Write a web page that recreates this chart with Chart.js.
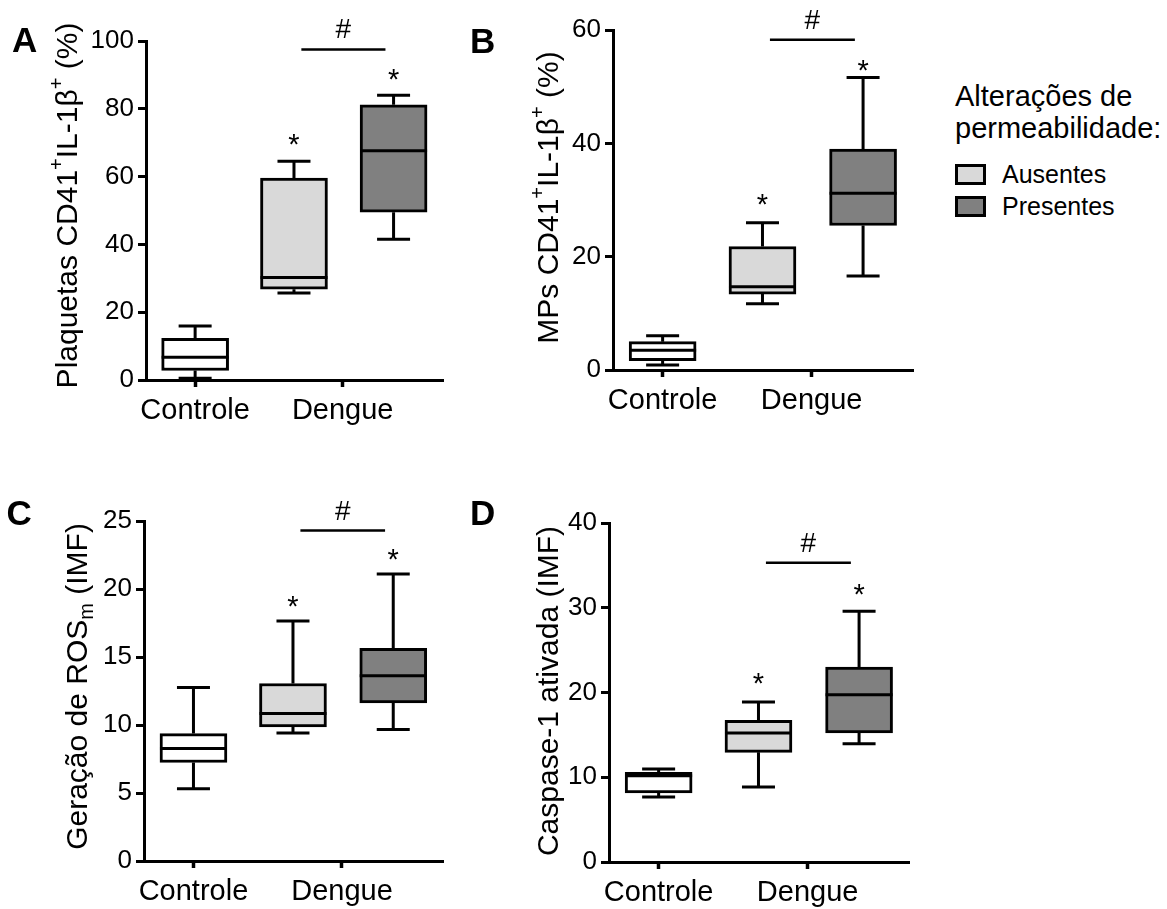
<!DOCTYPE html>
<html>
<head>
<meta charset="utf-8">
<script src="https://cdn.jsdelivr.net/npm/chart.js@4.4.1/dist/chart.umd.min.js"></script>
<style>
  html, body { margin: 0; padding: 0; background: #ffffff; }
  body { width: 1167px; height: 909px; position: relative; overflow: hidden;
         font-family: 'Liberation Sans', Arial, Helvetica, sans-serif; color: #000; }
  canvas { position: absolute; }
  .panel-letter { position: absolute; font-weight: bold; font-size: 35px; line-height: 35px; }
  .leg-title { position: absolute; left: 955px; font-size: 29px; line-height: 29px; white-space: nowrap; }
  .leg-item { position: absolute; left: 1002px; font-size: 25px; line-height: 25px; white-space: nowrap; }
  .leg-box { position: absolute; left: 955px; width: 31px; height: 21px; box-sizing: border-box; border: 3px solid #000; }
</style>
</head>
<body>
<script>
// ---------------- DATA ----------------
const groups = ['Controle', 'Dengue'];
const seriesNames = ['Controle', 'Ausentes', 'Presentes'];
const seriesGroup = [0, 1, 1];              // which category each box belongs to

// A: Plaquetas CD41+IL-1β+ (%)
const plaqMin = [0.5, 25.7, 41.5];
const plaqQ1  = [2.8, 26.8, 49.5];
const plaqMed = [6.7, 30.2, 67.6];
const plaqQ3  = [12.3, 59.6, 81.2];
const plaqMax = [15.9, 64.5, 84.0];
const plaqStars = [null, 71.7, 90.9];
const plaqHash = 97.5;
const plaqTicks = [0, 20, 40, 60, 80, 100];

// B: MPs CD41+IL-1β+ (%)
const mpsMin = [0.9, 11.7, 16.6];
const mpsQ1  = [1.65, 13.4, 25.5];
const mpsMed = [3.5, 14.7, 31.2];
const mpsQ3  = [5.0, 21.8, 39.0];
const mpsMax = [6.05, 26.0, 51.6];
const mpsStars = [null, 30.6, 54.1];
const mpsHash = 58.3;
const mpsTicks = [0, 20, 40, 60];

// C: Geração de ROSm (IMF)
const rosMin = [5.32, 9.42, 9.67];
const rosQ1  = [7.24, 9.86, 11.63];
const rosMed = [8.27, 10.84, 13.62];
const rosQ3  = [9.37, 13.05, 15.63];
const rosMax = [12.76, 17.64, 21.1];
const rosStars = [null, 19.3, 22.7];
const rosHash = 24.3;
const rosTicks = [0, 5, 10, 15, 20, 25];

// D: Caspase-1 ativada (IMF)
const caspMin = [7.67, 8.85, 13.96];
const caspQ1  = [8.14, 12.94, 15.22];
const caspMed = [10.19, 15.22, 19.74];
const caspQ3  = [10.58, 16.72, 23.0];
const caspMax = [10.97, 18.88, 29.58];
const caspStars = [null, 21.9, 32.5];
const caspHash = 35.3;
const caspTicks = [0, 10, 20, 30, 40];

const legendTitle = ['Alterações de', 'permeabilidade:'];

// ---------------- STYLE / LAYOUT ----------------
const FONT = "'Liberation Sans', Arial, Helvetica, sans-serif";
const COLORS = ['#ffffff', '#d9d9d9', '#808080'];
const BOX_OFFSET = [0, -0.33, 0.345];
const X_MIN = -0.333, X_MAX = 1.68;
const HASH_SPAN = [0.72, 1.29];
const BOX_W = 67, CAP_W = 33, LW = 3;

const panels = [
  { letter: 'A', letterPos: [12, 22.4],
    canvas: { left: 0, top: 0, w: 470, h: 452 }, plot: { l: 146, t: 41, r: 443, b: 380 },
    title: { segs: [['Plaquetas CD41', 0], ['+', 1], ['IL-1β', 0], ['+', 1], [' (%)', 0]], baseX: 77, centerY: 205.5 },
    min: plaqMin, q1: plaqQ1, med: plaqMed, q3: plaqQ3, max: plaqMax, stars: plaqStars, hash: plaqHash, ticks: plaqTicks },
  { letter: 'B', letterPos: [470, 23.4],
    canvas: { left: 470, top: 0, w: 460, h: 452 }, plot: { l: 613, t: 30, r: 913, b: 370 },
    title: { segs: [['MPs CD41', 0], ['+', 1], ['IL-1β', 0], ['+', 1], [' (%)', 0]], baseX: 558, centerY: 197.5 },
    min: mpsMin, q1: mpsQ1, med: mpsMed, q3: mpsQ3, max: mpsMax, stars: mpsStars, hash: mpsHash, ticks: mpsTicks },
  { letter: 'C', letterPos: [6.5, 495.4],
    canvas: { left: 0, top: 460, w: 470, h: 449 }, plot: { l: 144, t: 521, r: 443, b: 861 },
    title: { segs: [['Geração de ROS', 0], ['m', -1], [' (IMF)', 0]], baseX: 87, centerY: 686.5 },
    min: rosMin, q1: rosQ1, med: rosMed, q3: rosQ3, max: rosMax, stars: rosStars, hash: rosHash, ticks: rosTicks },
  { letter: 'D', letterPos: [470, 495.4],
    canvas: { left: 470, top: 460, w: 460, h: 449 }, plot: { l: 609, t: 523, r: 909, b: 862 },
    title: { segs: [['Caspase-1 ativada (IMF)', 0]], baseX: 558, centerY: 691 },
    min: caspMin, q1: caspQ1, med: caspMed, q3: caspQ3, max: caspMax, stars: caspStars, hash: caspHash, ticks: caspTicks }
];

Chart.defaults.font.family = FONT;
Chart.defaults.color = '#000';
Chart.defaults.animation = false;

function makeBoxPlugin(p) {
  return {
    id: 'boxParts' + p.letter,
    beforeDatasetsDraw(chart) {
      const ctx = chart.ctx, y = chart.scales.y;
      ctx.save();
      ctx.strokeStyle = '#000'; ctx.lineWidth = LW; ctx.lineCap = 'butt';
      chart.data.datasets.forEach((ds, i) => {
        const el = chart.getDatasetMeta(i).data[0];
        const cx = el.x;
        const yMin = y.getPixelForValue(p.min[i]), yMax = y.getPixelForValue(p.max[i]);
        const yQ1 = y.getPixelForValue(p.q1[i]), yQ3 = y.getPixelForValue(p.q3[i]);
        ctx.beginPath();
        ctx.moveTo(cx, yQ1); ctx.lineTo(cx, yMin);
        ctx.moveTo(cx, yQ3); ctx.lineTo(cx, yMax);
        ctx.moveTo(cx - CAP_W / 2, yMin); ctx.lineTo(cx + CAP_W / 2, yMin);
        ctx.moveTo(cx - CAP_W / 2, yMax); ctx.lineTo(cx + CAP_W / 2, yMax);
        ctx.stroke();
      });
      ctx.restore();
    },
    afterDatasetsDraw(chart) {
      const ctx = chart.ctx, x = chart.scales.x, y = chart.scales.y;
      ctx.save();
      ctx.strokeStyle = '#000'; ctx.fillStyle = '#000'; ctx.lineWidth = LW;
      // medians
      chart.data.datasets.forEach((ds, i) => {
        const el = chart.getDatasetMeta(i).data[0];
        const ym = y.getPixelForValue(p.med[i]);
        ctx.beginPath();
        ctx.moveTo(el.x - el.width / 2, ym); ctx.lineTo(el.x + el.width / 2, ym);
        ctx.stroke();
      });
      // stars
      ctx.font = '29px ' + FONT;
      ctx.textAlign = 'center'; ctx.textBaseline = 'alphabetic';
      p.stars.forEach((s, i) => {
        if (s === null) return;
        const el = chart.getDatasetMeta(i).data[0];
        ctx.fillText('*', el.x, y.getPixelForValue(s) + 17);
      });
      // significance bar
      const yh = y.getPixelForValue(p.hash);
      const x0 = x.getPixelForValue(HASH_SPAN[0]), x1 = x.getPixelForValue(HASH_SPAN[1]);
      ctx.lineWidth = 2.5;
      ctx.beginPath(); ctx.moveTo(x0, yh); ctx.lineTo(x1, yh); ctx.stroke();
      ctx.font = '28px ' + FONT;
      ctx.fillText('#', (x0 + x1) / 2, yh - 11);
      ctx.restore();
    },
    afterDraw(chart) {
      const ctx = chart.ctx;
      const t = p.title;
      const MAIN = 30, SMALL = 20;
      const segW = t.segs.map(([txt, mode]) => {
        ctx.font = (mode === 0 ? MAIN : SMALL) + 'px ' + FONT;
        return ctx.measureText(txt).width;
      });
      const total = segW.reduce((a, b) => a + b, 0);
      ctx.save();
      ctx.translate(t.baseX - p.canvas.left, t.centerY - p.canvas.top);
      ctx.rotate(-Math.PI / 2);
      ctx.fillStyle = '#000'; ctx.textAlign = 'left'; ctx.textBaseline = 'alphabetic';
      let cur = -total / 2;
      t.segs.forEach(([txt, mode], k) => {
        ctx.font = (mode === 0 ? MAIN : SMALL) + 'px ' + FONT;
        const dy = mode === 1 ? -14 : (mode === -1 ? 6 : 0);
        ctx.fillText(txt, cur, dy);
        cur += segW[k];
      });
      ctx.restore();
    }
  };
}

panels.forEach(p => {
  const cv = document.createElement('canvas');
  cv.width = p.canvas.w; cv.height = p.canvas.h;
  cv.style.left = p.canvas.left + 'px'; cv.style.top = p.canvas.top + 'px';
  cv.style.width = p.canvas.w + 'px'; cv.style.height = p.canvas.h + 'px';
  document.body.appendChild(cv);

  const yAxisW = p.plot.l - p.canvas.left;
  const xAxisH = p.canvas.h - (p.plot.b - p.canvas.top);
  const padTop = p.plot.t - p.canvas.top;
  const padRight = p.canvas.w - (p.plot.r - p.canvas.left);

  const datasets = seriesNames.map((name, i) => ({
    label: name,
    data: [{ x: seriesGroup[i] + BOX_OFFSET[i], y: [p.q1[i], p.q3[i]] }],
    backgroundColor: COLORS[i],
    borderColor: '#000',
    borderWidth: LW,
    borderSkipped: false,
    barThickness: BOX_W,
    grouped: false
  }));

  new Chart(cv, {
    type: 'bar',
    data: { datasets },
    options: {
      responsive: false,
      animation: false,
      events: [],
      layout: { padding: { left: 0, top: padTop, right: padRight, bottom: 0 } },
      plugins: { legend: { display: false }, tooltip: { enabled: false }, title: { display: false } },
      scales: {
        x: {
          type: 'linear', min: X_MIN, max: X_MAX, offset: false,
          afterBuildTicks: (s) => { s.ticks = groups.map((g, i) => ({ value: i })); },
          afterFit: (s) => { s.height = xAxisH; },
          ticks: { callback: (v, i) => groups[i], font: { size: 29 }, color: '#000', padding: 7, maxRotation: 0, autoSkip: false },
          grid: { offset: false, drawOnChartArea: false, drawTicks: true, tickLength: 7, tickWidth: 3.5, tickColor: '#000' },
          border: { display: true, color: '#000', width: LW }
        },
        y: {
          type: 'linear', min: p.ticks[0], max: p.ticks[p.ticks.length - 1],
          afterBuildTicks: (s) => { s.ticks = p.ticks.map(v => ({ value: v })); },
          afterFit: (s) => { s.width = yAxisW; },
          ticks: { font: { size: 26 }, color: '#000', padding: 4 },
          grid: { drawOnChartArea: false, drawTicks: true, tickLength: 8, tickWidth: 3, tickColor: '#000' },
          border: { display: true, color: '#000', width: LW }
        }
      }
    },
    plugins: [makeBoxPlugin(p)]
  });

  const lt = document.createElement('div');
  lt.className = 'panel-letter';
  lt.textContent = p.letter;
  lt.style.left = p.letterPos[0] + 'px'; lt.style.top = p.letterPos[1] + 'px';
  document.body.appendChild(lt);
});

// legend (HTML)
legendTitle.forEach((line, k) => {
  const d = document.createElement('div');
  d.className = 'leg-title';
  d.textContent = line;
  d.style.top = (82.2 + k * 31.6) + 'px';
  document.body.appendChild(d);
});
[1, 2].forEach((si, k) => {
  const b = document.createElement('div');
  b.className = 'leg-box';
  b.style.top = (163.5 + k * 32.5) + 'px';
  b.style.background = COLORS[si];
  document.body.appendChild(b);
  const t = document.createElement('div');
  t.className = 'leg-item';
  t.textContent = seriesNames[si];
  t.style.top = (162.1 + k * 31.7) + 'px';
  document.body.appendChild(t);
});
</script>
</body>
</html>
